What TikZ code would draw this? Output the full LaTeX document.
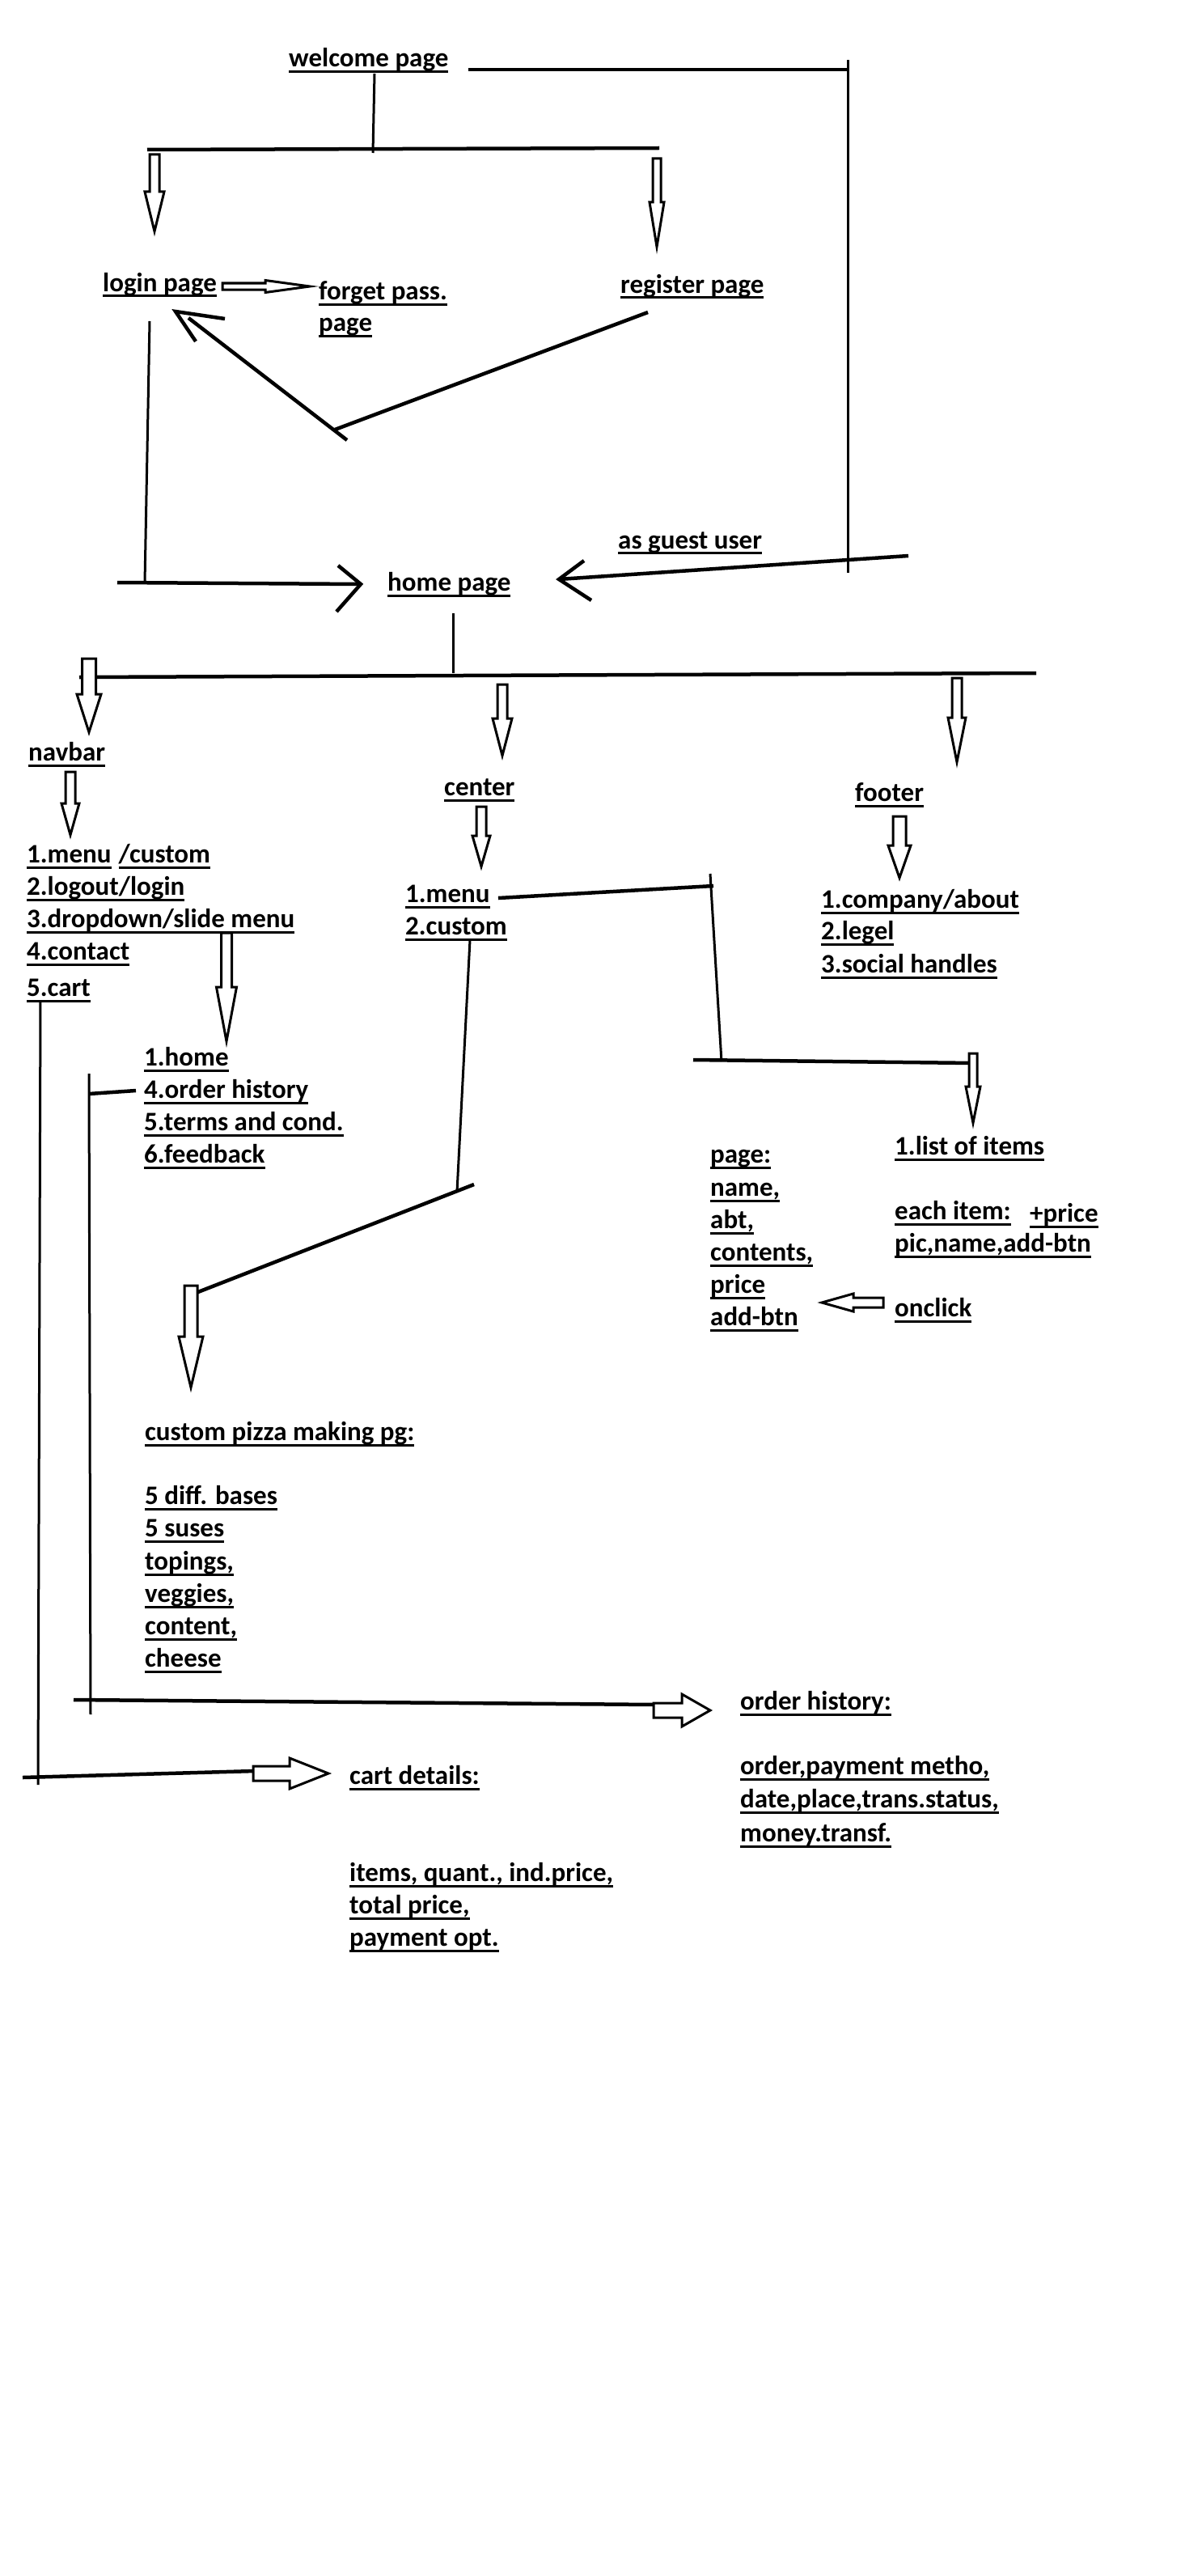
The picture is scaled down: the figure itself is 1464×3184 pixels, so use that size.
\documentclass[tikz,border=0pt]{standalone}
\usepackage{fontspec}
\setmainfont{Carlito}
\newcommand\ulx[1]{\setbox0=\hbox{#1}\rlap{\rule[-7pt]{\wd0}{3pt}}\box0\relax}
\newcommand\tx[4]{\node[lbl] (#1) at (#2,{#3-5.5}) {\ulx{#4}};}
\newcommand\hdown[7]{\draw[hollow] ({#2-#6},#3) -- ({#2+#6},#3) -- ({#2+#6},#4) -- ({#2+#7},#4) -- (#2,#5) coordinate (#1) -- ({#2-#7},#4) -- ({#2-#6},#4) -- cycle;}
\newcommand\hright[7]{\draw[hollow] (#3,{#2-#6}) -- (#4,{#2-#6}) -- (#4,{#2-#7}) -- (#5,#2) coordinate (#1) -- (#4,{#2+#7}) -- (#4,{#2+#6}) -- (#3,{#2+#6}) -- cycle;}
\tikzset{
  lbl/.style={font=\bfseries\fontsize{33}{40}\selectfont, inner sep=0pt, anchor=base west},
  ln/.style={line width=3pt},
  lnb/.style={line width=4.5pt},
  hollow/.style={line width=3pt, fill=white}
}
\begin{document}
\begin{tikzpicture}[x=1pt,y=-1pt]
\fill[white] (0,0) rectangle (1464,3184);
\useasboundingbox (0,0) rectangle (1464,3184);

% ---------- top ----------
\tx{welcome}{357}{88.5}{welcome page}
\tx{login}{127}{366}{login page}
\tx{forget1}{394}{376}{forget pass.}
\tx{forget2}{394}{415}{page}
\tx{register}{767}{368}{register page}
\tx{guest}{764}{683.5}{as guest user}
\tx{home}{479}{736}{home page}

\coordinate (wr1) at (579,86);
\coordinate (wr2) at (1048,86);
\coordinate (vr1) at (1048,74);
\coordinate (vr2) at (1048,708);
\draw[lnb] (wr1) -- (wr2);
\draw[ln] (vr1) -- (vr2);

\coordinate (ws1) at (463,91);
\coordinate (ws2) at (461,189);
\draw[ln] (ws1) -- (ws2);
\coordinate (b1l) at (182,185);
\coordinate (b1r) at (815,183);
\draw[lnb] (b1l) -- (b1r);
\hdown{a1}{191}{191}{237}{286}{6}{12}
\hdown{a2}{812}{196}{250}{305}{5}{9}

\hright{a3}{354}{275}{328}{383}{4}{7.5}

\coordinate (rg1) at (801,386);
\coordinate (rg2) at (414,531);
\draw[lnb] (rg1) -- (rg2);
\coordinate (rg3) at (429,544);
\coordinate (rg4) at (233,393);
\draw[lnb] (rg3) -- (rg4);
\coordinate (tipL) at (217,385);
\draw[lnb] (278,394) -- (tipL) -- (242,422);

\coordinate (lv1) at (185,397);
\coordinate (lv2) at (179,720);
\draw[ln] (lv1) -- (lv2);
\coordinate (lh1) at (145,720);
\coordinate (tipH) at (446,722);
\draw[lnb] (lh1) -- (tipH);
\draw[lnb] (418,699) -- (tipH) -- (416,756);

\coordinate (g1) at (1123,687);
\coordinate (tipG) at (691,716);
\draw[lnb] (g1) -- (tipG);
\draw[lnb] (722,693) -- (tipG) -- (731,742);

% ---------- home split ----------
\coordinate (hs1) at (560,758);
\coordinate (hs2) at (560,832);
\draw[ln] (hs1) -- (hs2);
\coordinate (b2l) at (98,837);
\coordinate (b2r) at (1281,832);
\draw[lnb] (b2l) -- (b2r);
\hdown{a4}{110}{814}{858}{905}{8.5}{15}
\hdown{a5}{621}{846}{888}{934}{6}{12}
\hdown{a6}{1183}{838}{887}{942}{6}{11}

\tx{navbar}{35}{946}{navbar}
\tx{center}{549}{989}{center}
\tx{footer}{1057}{996}{footer}

\hdown{a7}{87}{954}{993}{1032}{6}{11}
\hdown{a8}{595}{997}{1033}{1071}{6}{11}
\hdown{a9}{1112}{1009}{1045}{1085}{8}{14}

% navbar list
\node[lbl] (nav1) at (33,1066.5) {\ulx{1.menu}\hspace{9pt}\ulx{/custom}};
\tx{nav2}{33}{1112}{2.logout/login}
\tx{nav3}{33}{1152}{3.dropdown/slide menu}
\tx{nav4}{33}{1192}{4.contact}
\tx{nav5}{33}{1237}{5.cart}

% center list
\tx{cen1}{501}{1121}{1.menu}
\tx{cen2}{501}{1161}{2.custom}

% footer list
\tx{foo1}{1015}{1128}{1.company/about}
\tx{foo2}{1015}{1167}{2.legel}
\tx{foo3}{1015}{1208}{3.social handles}

% dropdown arrow and sublist
\hdown{a10}{280}{1153}{1220}{1287}{6.5}{12.5}
\tx{dd1}{178}{1323}{1.home}
\tx{dd4}{178}{1363}{4.order history}
\tx{dd5}{178}{1403}{5.terms and cond.}
\tx{dd6}{178}{1443}{6.feedback}

% menu branch
\coordinate (m1) at (616,1110);
\coordinate (m2) at (882,1095);
\draw[lnb] (m1) -- (m2);
\coordinate (mv1) at (878,1080);
\coordinate (mv2) at (892,1312);
\draw[ln] (mv1) -- (mv2);
\coordinate (mh1) at (857,1310);
\coordinate (mh2) at (1204,1314);
\draw[lnb] (mh1) -- (mh2);
\hdown{a11}{1203}{1302}{1343}{1388}{5}{9}

\tx{items}{1106}{1433}{1.list of items}
\tx{each}{1106}{1513}{each item:}
\tx{plus}{1273}{1516}{+price}
\tx{pic}{1106}{1553}{pic,name,add-btn}
\tx{onclick}{1106}{1633}{onclick}
\hright{a12}{1610}{1092}{1055}{1016}{6}{11}

\tx{pg1}{878}{1443}{page:}
\tx{pg2}{878}{1484}{name,}
\tx{pg3}{878}{1524}{abt,}
\tx{pg4}{878}{1564}{contents,}
\tx{pg5}{878}{1604}{price}
\tx{pg6}{878}{1644}{add-btn}

% custom branch
\coordinate (c1) at (581,1162);
\coordinate (c2) at (565,1473);
\draw[ln] (c1) -- (c2);
\coordinate (c3) at (586,1464);
\coordinate (c4) at (232,1602);
\draw[lnb] (c3) -- (c4);
\hdown{a13}{236}{1589}{1652}{1715}{8}{15}

\tx{cp0}{179}{1786}{custom pizza making pg:}
\tx{cp1}{179}{1865}{5 diff. bases}
\tx{cp2}{179}{1905}{5 suses}
\tx{cp3}{179}{1946}{topings,}
\tx{cp4}{179}{1986}{veggies,}
\tx{cp5}{179}{2026}{content,}
\tx{cp6}{179}{2066}{cheese}

% order history branch
\coordinate (o1) at (110,1327);
\coordinate (o2) at (112,2119);
\draw[ln] (o1) -- (o2);
\coordinate (o3) at (110,1352);
\coordinate (o4) at (168,1348);
\draw[lnb] (o3) -- (o4);
\coordinate (o5) at (91,2101);
\coordinate (o6) at (810,2107);
\draw[lnb] (o5) -- (o6);
\hright{a14}{2114}{808}{843}{878}{9}{20}

\tx{oh0}{915}{2119}{order history:}
\tx{oh1}{915}{2199}{order,payment metho,}
\tx{oh2}{915}{2240}{date,place,trans.status,}
\tx{oh3}{915}{2282}{money.transf.}

% cart branch
\coordinate (k1) at (50,1238);
\coordinate (k2) at (47,2206);
\draw[ln] (k1) -- (k2);
\coordinate (k3) at (28,2197);
\coordinate (k4) at (315,2189);
\draw[lnb] (k3) -- (k4);
\hright{a15}{2192}{313}{358}{406}{9}{19}

\tx{cd0}{432}{2211}{cart details:}
\tx{cd1}{432}{2331}{items, quant., ind.price,}
\tx{cd2}{432}{2371}{total price,}
\tx{cd3}{432}{2411}{payment opt.}
\end{tikzpicture}
\end{document}
